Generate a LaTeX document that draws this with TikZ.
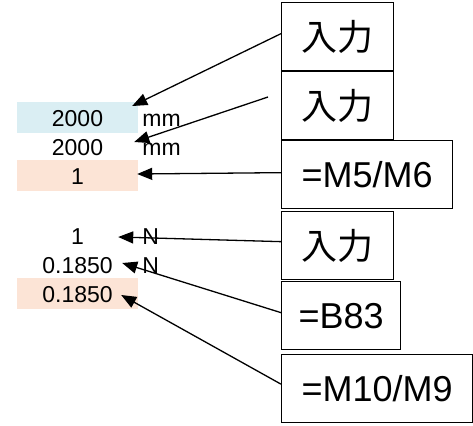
\documentclass[tikz,border=0pt]{standalone}
\usepackage{fontspec}
\setmainfont{Liberation Sans}
\newfontfamily\jp{Noto Sans CJK JP}
\usepackage{tikz}
\usetikzlibrary{arrows.meta}
\definecolor{inblue}{HTML}{DAEEF3}
\definecolor{calcorange}{HTML}{FCE4D6}

\begin{document}
\begin{tikzpicture}[x=1pt,y=-1pt,
    box/.style={draw,rectangle,line width=1.3pt,anchor=north west,minimum height=68pt,inner xsep=20pt,font=\fontsize{36}{36}\selectfont},
    cell/.style={rectangle,inner sep=0pt,minimum width=121pt,minimum height=31pt,text height=17pt,text depth=0pt,font=\fontsize{23}{23}\selectfont},
    unit/.style={anchor=base west,inner sep=0pt,font=\fontsize{23}{23}\selectfont},
    arr/.style={-{Triangle[length=15pt,width=12pt]},line width=1.3pt}]
    \useasboundingbox (0,0) rectangle (473,425);
    \path
        (281,2)  node [box]  (in1) {\jp 入力}
     ++ (0,69)   node [box]  (in2) {\jp 入力}
     ++ (0,69)   node [box]  (m5m6) {=M5/M6}
     ++ (0,71)   node [box]  (in3) {\jp 入力}
     ++ (0,70)   node [box,inner xsep=17pt]  (b83) {=B83}
     ++ (0,73)   node [box]  (m10m9) {=M10/M9}
     ;
    \path
        (77.5,117.5) node [cell,fill=inblue]  (lena) {2000}
     ++ (0,29)   node [cell]  (lenb) {2000}
     ++ (0,29)   node [cell,fill=calcorange]  (ratio) {1}
     ++ (0,60)   node [cell]  (loada) {1}
     ++ (0,29)   node [cell]  (loadb) {0.1850}
     ++ (0,29)   node [cell,fill=calcorange]  (res) {0.1850}
     ;
    \node [unit] (mma) at ([xshift=4pt]lena.base east) {mm};
    \node [unit] (mmb) at ([xshift=4pt]lenb.base east) {mm};
    \node [unit] (na) at ([xshift=4pt]loada.base east) {N};
    \node [unit] (nb) at ([xshift=4pt]loadb.base east) {N};
    \coordinate (in2tail) at (268,97);
    \draw [arr] ([yshift=3pt]in1.west) -- ([xshift=-6pt,yshift=11.5pt]lena.east);
    \draw [arr] (in2tail) -- ([xshift=-4pt,yshift=4.5pt]lenb.east);
    \draw [arr] ([yshift=2pt]m5m6.west) -- ([xshift=-1pt,yshift=1.5pt]ratio.east);
    \draw [arr] ([yshift=4pt]in3.west) -- ([xshift=-20pt,yshift=-1.5pt]loada.east);
    \draw [arr] ([yshift=3pt]b83.west) -- ([xshift=-16pt,yshift=1.5pt]loadb.east);
    \draw [arr] ([yshift=4.5pt]m10m9.west) -- ([xshift=-17pt,yshift=-1.5pt]res.east);
\end{tikzpicture}
\end{document}
